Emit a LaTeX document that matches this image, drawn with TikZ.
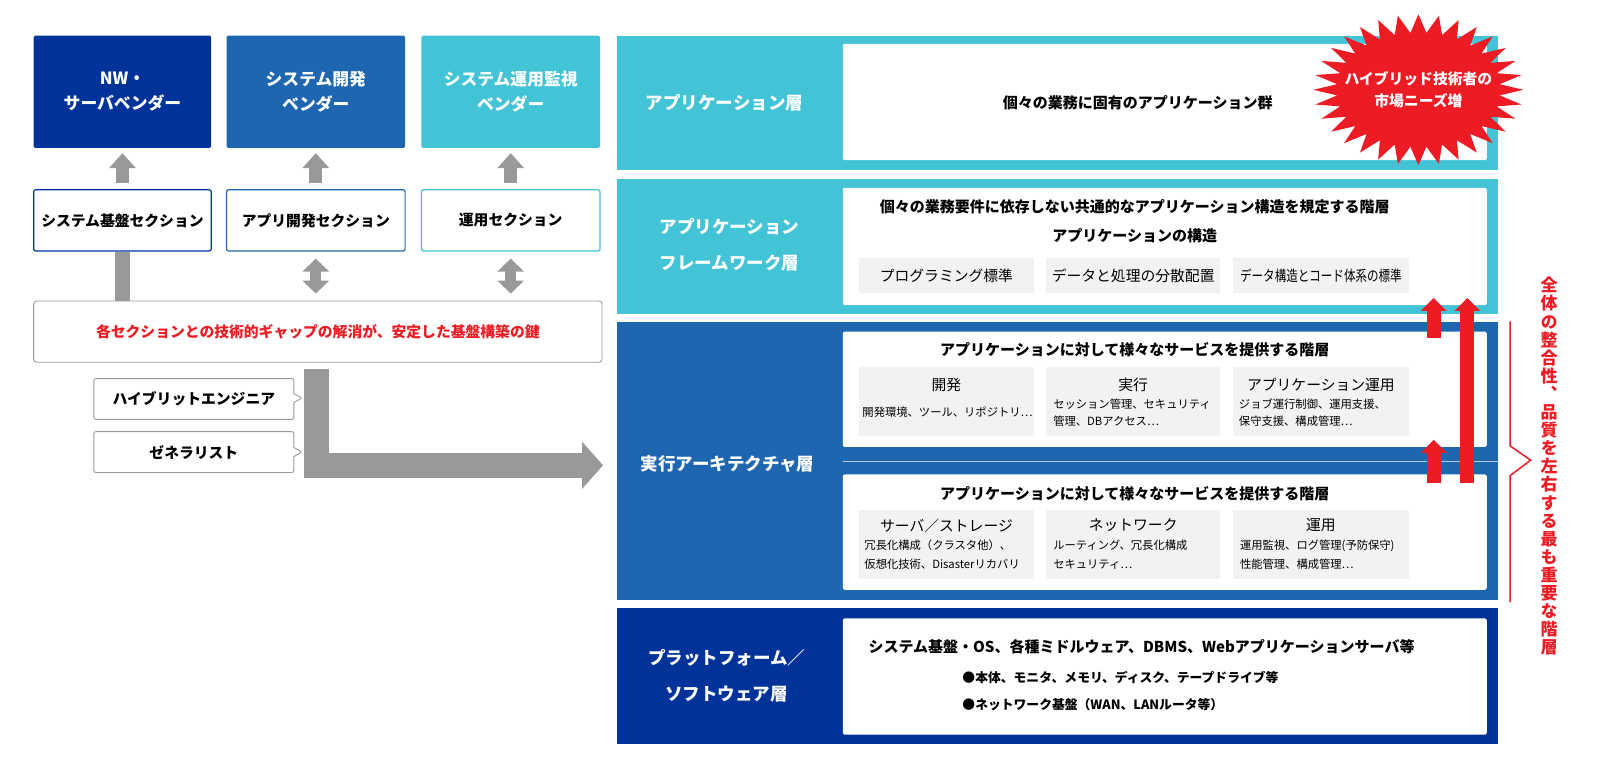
\documentclass[tikz,border=0pt]{standalone}
\usepackage{fontspec}
\setmainfont{Noto Sans CJK JP}
\newfontfamily\vjp[RawFeature=+vert]{Noto Sans CJK JP}
\usetikzlibrary{arrows.meta}
\usetikzlibrary{positioning,fit,shapes.callouts}

\definecolor{navy}{RGB}{0,51,153}
\definecolor{midblue}{RGB}{31,102,176}
\definecolor{skyblue}{RGB}{67,195,214}
\definecolor{arrowgray}{RGB}{153,153,153}
\definecolor{boxgray}{RGB}{242,242,242}
\definecolor{keyred}{RGB}{237,28,36}

\newcommand{\setfs}[2]{\fontsize{#1}{#2}\selectfont}

\tikzset{
  vendor/.style={inner sep=0pt, rounded corners=1.5pt},
  vendortext/.style={inner sep=0pt, text=white, align=center, font=\setfs{16.8pt}{25.5pt}\bfseries},
  section/.style={draw, fill=white, line width=1.2pt, rounded corners=2pt, inner sep=0pt},
  boxtext/.style={inner sep=0pt, font=\setfs{14.8pt}{18pt}\bfseries},
  keybox/.style={draw=arrowgray, line width=0.9pt, fill=white, rounded corners=3pt, inner sep=0pt},
  note/.style={rectangle callout, draw=arrowgray, fill=white, line width=0.9pt, rounded corners=2pt, inner sep=0pt, callout pointer width=9pt},
  uparrow/.style={draw=arrowgray, line width=13pt, -{Triangle[length=15pt,width=26pt]}, shorten <=6pt, shorten >=5pt},
  botharrow/.style={draw=arrowgray, line width=11pt, {Triangle[length=13pt,width=26pt]}-{Triangle[length=13pt,width=26pt]}, shorten <=7pt, shorten >=7pt},
  graybar/.style={draw=arrowgray, line width=15pt},
  bigarrow/.style={draw=arrowgray, line width=24.5pt, line join=miter, -{Triangle[length=21pt,width=46pt]}},
  layer/.style={inner sep=0pt},
  layerlabel/.style={text=white, align=center, font=\setfs{17.5pt}{36pt}\bfseries},
  panel/.style={fill=white, rounded corners=2pt, inner sep=0pt},
  cell/.style={fill=boxgray, inner sep=0pt},
  celllabel/.style={inner sep=0pt, font=\setfs{14.8pt}{18pt}},
  headline/.style={inner sep=0pt, font=\setfs{15pt}{18pt}\bfseries},
  celltitle/.style={inner sep=0pt, font=\setfs{14.8pt}{18pt}},
  celltext/.style={align=left, anchor=west, inner sep=0pt, font=\setfs{11.3pt}{17.5pt}},
  bullet/.style={anchor=west, inner sep=0pt, font=\setfs{12.8pt}{16pt}\bfseries},
  sepline/.style={draw=white!65!midblue, line width=1pt},
  redarrow/.style={draw=keyred, line width=14pt, -{Triangle[length=13pt,width=25pt]}},
  bursttext/.style={text=white, align=center, inner sep=0pt, font=\setfs{14.8pt}{22.5pt}\bfseries},
  vlabel/.style={text=keyred, align=center, inner sep=0pt, font=\vjp\setfs{17pt}{18.1pt}\bfseries},
}

\begin{document}
\begin{tikzpicture}[x=1.0204pt, y=-1.0204pt]
\useasboundingbox (0,0) rectangle (1568,764.4);

% vendors and sections
\node[vendor, fill=navy, fit={(33,35) (207,145)}] (nwv) {};
\node[vendor, fill=midblue, fit={(222,35) (397,145)}] (devv) {};
\node[vendor, fill=skyblue, fit={(413,35) (588,145)}] (opsv) {};
\node[vendortext] (nwvtext) at (nwv) {NW・\\サーバベンダー};
\node[vendortext] (devvtext) at (devv) {システム開発\\ベンダー};
\node[vendortext] (opsvtext) at (opsv) {システム運用監視\\ベンダー};

\node[section, draw=navy, fit={(33,186) (207,246)}] (nwsec) {};
\node[section, draw=midblue, fit={(222,186) (397,246)}] (devsec) {};
\node[section, draw=skyblue, fit={(413,186) (588,246)}] (opssec) {};
\node[boxtext] (nwsectext) at (nwsec) {システム基盤セクション};
\node[boxtext] (devsectext) at (devsec) {アプリ開発セクション};
\node[boxtext] (opssectext) at (opssec) {運用セクション};

\node[keybox, fit={(33,295) (590,355)}] (key) {};
\node[boxtext, text=keyred] (keytext) at (key) {各セクションとの技術的ギャップの解消が、安定した基盤構築の鍵};

\draw[uparrow] (nwsec) -- (nwv);
\draw[uparrow] (devsec) -- (devv);
\draw[uparrow] (opssec) -- (opsv);
\draw[graybar] (nwsec.south) -- (nwsec.south |- key.north);
\draw[botharrow] (devsec.south) -- (devsec.south |- key.north);
\draw[botharrow] (opssec.south) -- (opssec.south |- key.north);

% engineers
\node[note, fit={(92,371) (288,411)}, callout absolute pointer={(296,390)}] (hyb) {};
\node[note, fit={(92,423) (288,463)}, callout absolute pointer={(296,443)}] (gen) {};
\node[boxtext] (hybtext) at (hyb) {ハイブリットエンジニア};
\node[boxtext] (gentext) at (gen) {ゼネラリスト};

\coordinate (lstart) at (310,362);
\coordinate (ltip) at (591,456);
\draw[bigarrow] (lstart) |- (ltip);

% application layer
\node[layer, fill=skyblue, fit={(605,35) (1468,167)}] (applayer) {};
\node[panel, fit={(826,43) (1457,157)}] (appin) {};
\node[layerlabel] (applabel) at (710,101) {アプリケーション層};
\node[headline] (apphead) at (1115,101) {個々の業務に固有のアプリケーション群};

% framework layer
\node[layer, fill=skyblue, fit={(605,175) (1468,308)}] (fwlayer) {};
\node[panel, fit={(826,184) (1457,299)}] (fwin) {};
\node[layerlabel] (fwlabel) at (715,240) {アプリケーション\\フレームワーク層};
\node[headline] (fwhead) at (1112,203) {個々の業務要件に依存しない共通的なアプリケーション構造を規定する階層};
\node[headline] (fwsub) at (1112,231) {アプリケーションの構造};
\node[cell, fit={(842,253) (1013,287)}] (fwcella) {};
\node[cell, fit={(1025,253) (1196,287)}] (fwcellb) {};
\node[cell, fit={(1208,253) (1381,287)}] (fwcellc) {};
\node[celllabel] (fwtexta) at (fwcella) {プログラミング標準};
\node[celllabel] (fwtextb) at (fwcellb) {データと処理の分散配置};
\node[celllabel] (fwtextc) at (fwcellc) {\scalebox{0.78}[1]{データ構造とコード体系の標準}};

% execution architecture layer
\node[layer, fill=midblue, fit={(605,316) (1468,588)}] (execlayer) {};
\node[panel, fit={(826,325) (1457,438)}] (exupper) {};
\node[panel, fit={(826,465) (1457,578)}] (exlower) {};
\draw[sepline] (826,452) -- (1468,452);
\node[layerlabel] (execlabel) at (713,455) {実行アーキテクチャ層};

\node[headline] (uphead) at (1112,343) {アプリケーションに対して様々なサービスを提供する階層};
\node[cell, fit={(842,360) (1013,427)}] (upcella) {};
\node[cell, fit={(1025,360) (1196,427)}] (upcellb) {};
\node[cell, fit={(1208,360) (1381,427)}] (upcellc) {};
\node[celltitle] (upta) at (927.5,377) {開発};
\node[celltitle] (uptb) at (1110.5,377) {実行};
\node[celltitle] (uptc) at (1294.5,377) {アプリケーション運用};
\node[celltext] (upxa) at (845,404) {開発環境、ツール、リポジトリ…};
\node[celltext] (upxb) at (1032,404.5) {セッション管理、セキュリティ\\管理、DBアクセス…};
\node[celltext] (upxc) at (1214,404.5) {ジョブ運行制御、運用支援、\\保守支援、構成管理…};

\node[headline] (lowhead) at (1112,484) {アプリケーションに対して様々なサービスを提供する階層};
\node[cell, fit={(842,500) (1013,567)}] (lowcella) {};
\node[cell, fit={(1025,500) (1196,567)}] (lowcellb) {};
\node[cell, fit={(1208,500) (1381,567)}] (lowcellc) {};
\node[celltitle] (lowta) at (927.5,515) {サーバ／ストレージ};
\node[celltitle] (lowtb) at (1110.5,515) {ネットワーク};
\node[celltitle] (lowtc) at (1294.5,515) {運用};
\node[celltext, font=\setfs{11.3pt}{19pt}] (lowxa) at (847,543.5) {冗長化構成（クラスタ他）、\\仮想化技術、Disasterリカバリ};
\node[celltext, font=\setfs{11.3pt}{19pt}] (lowxb) at (1032,543.5) {ルーティング、冗長化構成\\セキュリティ…};
\node[celltext, font=\setfs{11.3pt}{19pt}] (lowxc) at (1215,543.5) {運用監視、ログ管理(予防保守)\\性能管理、構成管理…};

% platform layer
\node[layer, fill=navy, fit={(605,596) (1468,729)}] (platlayer) {};
\node[panel, fit={(826,606) (1457,720)}] (platin) {};
\node[layerlabel] (platlabel) at (712,662) {プラットフォーム／\\ソフトウェア層};
\node[headline, anchor=west] (plathead) at (851,634) {システム基盤・OS、各種ミドルウェア、DBMS、Webアプリケーションサーバ等};
\node[bullet] (platitema) at (943,664) {●本体、モニタ、メモリ、ディスク、テープドライブ等};
\node[bullet] (platitemb) at (943,691) {●ネットワーク基盤（WAN、LANルータ等）};

% red arrows
\coordinate (ra1) at (1405,331);
\coordinate (ra1tip) at (1405,292);
\coordinate (ra2) at (1438,473);
\coordinate (ra2tip) at (1438,292);
\coordinate (ra3) at (1405,473);
\coordinate (ra3tip) at (1405,431);
\draw[redarrow] (ra1) -- (ra1tip);
\draw[redarrow] (ra2) -- (ra2tip);
\draw[redarrow] (ra3) -- (ra3tip);

% starburst
\fill[keyred] (1493,88) \foreach \k in {1,...,63} {
  -- ({1390+(80+23*(1-mod(\k,2)))*cos(\k*5.625)}, {88+(56+18*(1-mod(\k,2)))*sin(\k*5.625)})
} -- cycle;
\node[bursttext] (burst) at (1390,88) {ハイブリッド技術者の\\市場ニーズ増};

% brace and side note
\draw[keyred, line width=1.5pt] (1480,315) -- (1480,437) -- (1500,451) -- (1480,466) -- (1480,590);
\node[vlabel] (vtext) at (1518,457) {全\\体\\の\\整\\合\\性\\、\\品\\質\\を\\左\\右\\す\\る\\最\\も\\重\\要\\な\\階\\層};
\end{tikzpicture}
\end{document}
